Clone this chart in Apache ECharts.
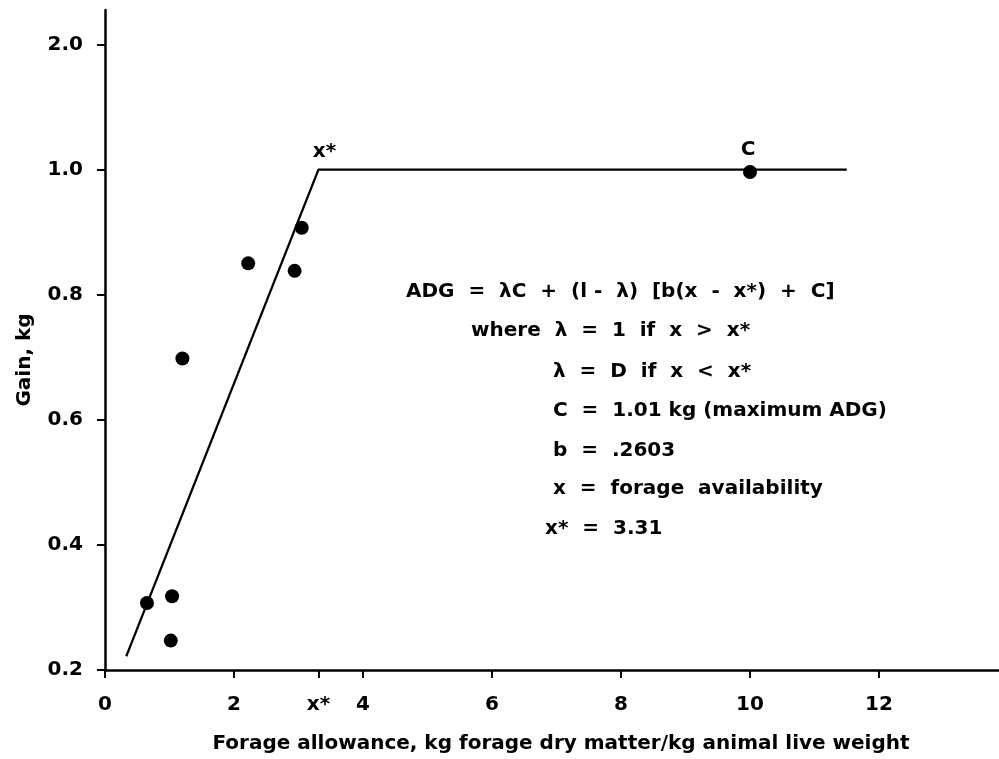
<!DOCTYPE html>
<html>
<head>
<meta charset="utf-8">
<script src="https://cdn.jsdelivr.net/npm/echarts@6/dist/echarts.min.js"></script>
<style>
html,body{margin:0;padding:0;background:#fff;}
#chart{width:999px;height:759px;}
</style>
</head>
<body>
<div id="chart"></div>
<script>
// Observed data points (forage allowance, gain)
const obsX = [0.65, 1.02, 1.04, 1.20, 2.22, 2.94, 3.05, 10.0];
const obsY = [0.307, 0.247, 0.318, 0.698, 0.850, 0.838, 0.907, 0.996];
// Fitted broken-line model
const fitX = [0.33, 3.31, 11.5];
const fitY = [0.222, 1.0, 1.0];
// Axis ticks
const xTicks = [0, 2, 3.31, 4, 6, 8, 10, 12];
const xTickLabels = ['0', '2', 'x*', '4', '6', '8', '10', '12'];
const yTicks = [0.2, 0.4, 0.6, 0.8, 1.0, 1.2];
const yTickLabels = ['0.2', '0.4', '0.6', '0.8', '1.0', '2.0'];
// Annotation text
const eqLines = [
  'ADG  =  \u03bbC  +  (l -  \u03bb)  [b(x  -  x*)  +  C]',
  'where  \u03bb  =  1  if  x  >  x*',
  '\u03bb  =  D  if  x  <  x*',
  'C  =  1.01 kg (maximum ADG)',
  'b  =  .2603',
  'x  =  forage  availability',
  'x*  =  3.31'
];

const FONT = '"DejaVu Sans", Verdana, Arial, sans-serif';
const chart = echarts.init(document.getElementById('chart'), null, {renderer: 'canvas'});

function lbl(ticks, labels) {
  return function (v) {
    for (let i = 0; i < ticks.length; i++) {
      if (Math.abs(ticks[i] - v) < 1e-6) return labels[i];
    }
    return '';
  };
}

const eqLeft = [406, 471, 553, 553, 553, 553, 545];
const eqY = [293, 332, 373, 412, 452, 490, 530];
const graphics = eqLines.map((t, i) => ({
  type: 'text',
  left: eqLeft[i],
  top: eqY[i] - 11,
  style: {text: t, font: 'bold 20px ' + FONT, fill: '#000'}
}));

chart.setOption({
  animation: false,
  backgroundColor: '#fff',
  grid: {left: 105, right: 0, top: 10, bottom: 86, containLabel: false},
  xAxis: {
    type: 'value',
    min: 0,
    max: 13.86,
    name: 'Forage allowance, kg forage dry matter/kg animal live weight',
    nameLocation: 'middle',
    nameGap: 64,
    nameTextStyle: {fontFamily: FONT, fontWeight: 'bold', fontSize: 20, color: '#000', padding: [0, 0, 0, 18]},
    axisLine: {show: true, lineStyle: {color: '#000', width: 2.5}},
    axisTick: {show: true, inside: false, length: 8, lineStyle: {color: '#000', width: 2}, customValues: xTicks},
    axisLabel: {fontFamily: FONT, fontWeight: 'bold', fontSize: 20, color: '#000', margin: 25, customValues: xTicks, formatter: lbl(xTicks, xTickLabels)},
    splitLine: {show: false}
  },
  yAxis: {
    type: 'value',
    min: 0.2,
    max: 1.255,
    name: 'Gain, kg',
    nameLocation: 'middle',
    nameGap: 70,
    nameTextStyle: {fontFamily: FONT, fontWeight: 'bold', fontSize: 20, color: '#000', padding: [0, 40, 0, 0]},
    axisLine: {show: true, lineStyle: {color: '#000', width: 2.5}},
    axisTick: {show: true, inside: false, length: 8, lineStyle: {color: '#000', width: 2}, customValues: yTicks},
    axisLabel: {fontFamily: FONT, fontWeight: 'bold', fontSize: 20, color: '#000', margin: 22, customValues: yTicks, formatter: lbl(yTicks, yTickLabels)},
    splitLine: {show: false}
  },
  series: [
    {
      type: 'line',
      data: fitX.map((x, i) => [x, fitY[i]]),
      symbol: 'none',
      lineStyle: {color: '#000', width: 2.2},
      z: 2
    },
    {
      type: 'scatter',
      data: obsX.map((x, i) => [x, obsY[i]]),
      symbol: 'circle',
      symbolSize: 14,
      itemStyle: {color: '#000', opacity: 1},
      z: 3
    },
    {
      type: 'scatter',
      data: [
        {value: [3.31, 1.0], label: {formatter: 'x*', offset: [6, 0]}},
        {value: [10.0, 1.0], label: {formatter: 'C', offset: [-2, -2]}}
      ],
      symbolSize: 0,
      silent: true,
      itemStyle: {opacity: 1},
      label: {show: true, position: 'top', distance: 8, fontFamily: FONT, fontWeight: 'bold', fontSize: 20, color: '#000', opacity: 1},
      z: 4
    }
  ],
  graphic: graphics
});
</script>
</body>
</html>
